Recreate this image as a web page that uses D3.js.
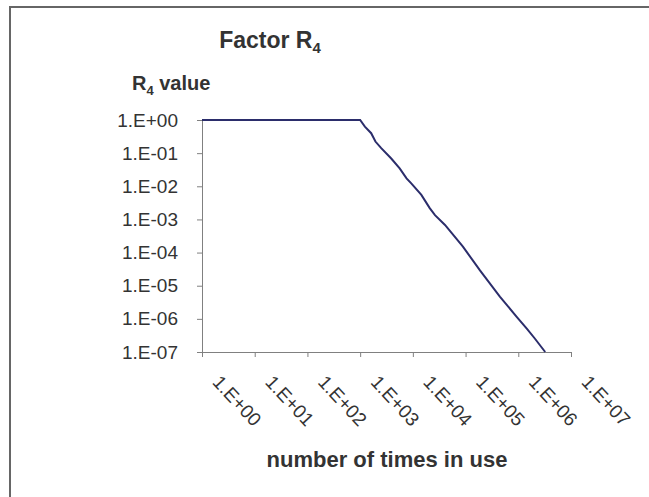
<!DOCTYPE html>
<html>
<head>
<meta charset="utf-8">
<script src="https://cdn.jsdelivr.net/npm/d3@7"></script>
<style>
  body { margin: 0; background: #fff; }
  text { font-family: Arial, "Liberation Sans", sans-serif; fill: #333; }
</style>
</head>
<body>
<script>
// number of times in use (x) and R4 value (y)
const timesInUse = [1, 10, 100, 1000, 1230, 1620, 1950, 2510, 3890, 5620, 7590, 9330,
  14500, 20900, 26300, 40700, 89100, 186000, 447000, 933000, 1450000, 2040000, 3240000];
const r4Values = [1, 1, 1, 1, 0.63, 0.40, 0.224, 0.141, 0.069, 0.0347, 0.0174, 0.0123,
  0.0055, 0.0022, 0.00135, 0.00068, 0.000151, 2.95e-5, 4.7e-6, 1.15e-6, 5.1e-7, 2.6e-7, 1e-7];

const xTicks = [1, 10, 100, 1e3, 1e4, 1e5, 1e6, 1e7];
const yTicks = [1, 1e-1, 1e-2, 1e-3, 1e-4, 1e-5, 1e-6, 1e-7];

const W = 649, H = 497;
const margin = {top: 120, left: 202},
    width = 571 - 202,
    height = 352 - 120;

const fmt = v => {
  const e = Math.round(Math.log10(v));
  return "1.E" + (e < 0 ? "-" : "+") + String(Math.abs(e)).padStart(2, "0");
};

const svg = d3.select("body").append("svg")
    .attr("width", W)
    .attr("height", H);

// chart frame (runs off the right and bottom edge)
svg.append("rect")
    .attr("x", 10).attr("y", 7)
    .attr("width", 700).attr("height", 600)
    .attr("fill", "none")
    .attr("stroke", "#666")
    .attr("stroke-width", 2);

svg.append("text")
    .attr("x", 270).attr("y", 48)
    .attr("text-anchor", "middle")
    .style("font-size", "23px").style("font-weight", "bold")
    .text("Factor R")
  .append("tspan")
    .attr("dy", 5).style("font-size", "15px")
    .text("4");

svg.append("text")
    .attr("x", 132).attr("y", 90)
    .style("font-size", "20px").style("font-weight", "bold")
    .text("R")
  .append("tspan")
    .attr("dy", 5).style("font-size", "13px")
    .text("4")
  .append("tspan")
    .attr("dy", -5).style("font-size", "20px")
    .text(" value");

const g = svg.append("g")
    .attr("transform", "translate(" + margin.left + "," + margin.top + ")");

const x = d3.scaleLog().domain([1, 1e7]).range([0, width]);
const y = d3.scaleLog().domain([1e-7, 1]).range([height, 0]);

const yAxis = g.append("g")
    .call(d3.axisLeft(y).tickValues(yTicks).tickFormat(fmt).tickSize(5).tickPadding(19));
yAxis.selectAll(".tick text").style("font-size", "19px").attr("fill", "#333");

const xAxis = g.append("g")
    .attr("transform", "translate(0," + height + ")")
    .call(d3.axisBottom(x).tickValues(xTicks).tickFormat(fmt).tickSize(5));
xAxis.selectAll(".tick text")
    .style("font-size", "19px").attr("fill", "#333")
    .attr("text-anchor", "start")
    .attr("y", 0).attr("dy", 0)
    .attr("transform", "translate(9,31) rotate(47)");

g.selectAll(".domain, .tick line").attr("stroke", "#808080");

const pts = timesInUse.map((n, i) => [n, r4Values[i]]);
g.append("path")
    .datum(pts)
    .attr("fill", "none")
    .attr("stroke", "#2b2d6b")
    .attr("stroke-width", 2)
    .attr("d", d3.line().x(d => x(d[0])).y(d => y(d[1])));

svg.append("text")
    .attr("x", 387).attr("y", 467)
    .attr("text-anchor", "middle")
    .style("font-size", "22px").style("font-weight", "bold")
    .text("number of times in use");
</script>
</body>
</html>
